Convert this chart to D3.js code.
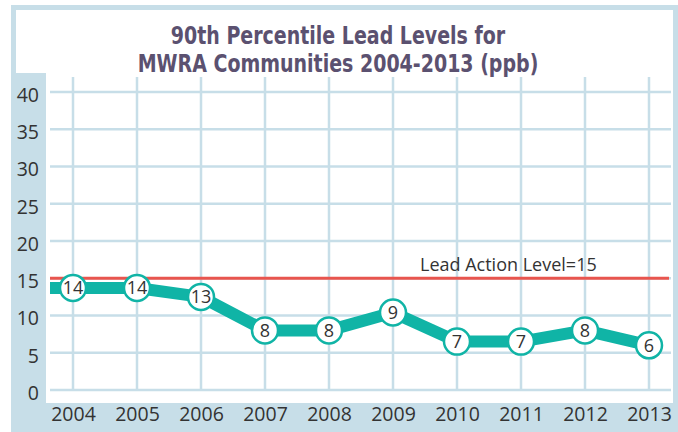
<!DOCTYPE html>
<html>
<head>
<meta charset="utf-8">
<script src="https://cdn.jsdelivr.net/npm/d3@7"></script>
<style>
  body { margin: 0; background: #fff; }
  svg { display: block; }
  .tick-label { font-family: "Open Sans", sans-serif; font-size: 19.5px; fill: #333; }
  .title { font-family: "Liberation Sans Narrow", "DejaVu Sans Condensed", sans-serif; font-weight: bold; font-size: 24px; fill: #5b5170; }
</style>
</head>
<body>
<svg id="chart"></svg>
<script>
  const years = ['2004', '2005', '2006', '2007', '2008', '2009', '2010', '2011', '2012', '2013'];
  const leadValues = [13.7, 13.7, 12.5, 8.0, 8.0, 10.4, 6.5, 6.5, 8.0, 6.0];
  const leadLabels = ['14', '14', '13', '8', '8', '9', '7', '7', '8', '6'];
  const yTicks = [0, 5, 10, 15, 20, 25, 30, 35, 40];
  const actionLevel = 15;
  const actionLabel = 'Lead Action Level=15';
  const titleLines = ['90th Percentile Lead Levels for', 'MWRA Communities 2004-2013 (ppb)'];

  const WIDTH = 678;
  const HEIGHT = 432;
  const FRAME = '#c7dee8';
  const TEAL = '#10b4a6';
  const PLOT = {left: 50, right: 671, top: 77, bottom: 390};

  const svg = d3.select('#chart')
    .attr('width', WIDTH)
    .attr('height', HEIGHT);

  // frame + axis bands
  svg.append('rect').attr('x', 11).attr('y', 5).attr('width', WIDTH - 11).attr('height', HEIGHT - 5).attr('fill', FRAME);
  svg.append('rect').attr('x', 16).attr('y', 10).attr('width', 673 - 16).attr('height', 63).attr('fill', '#fff');
  svg.append('rect').attr('x', 46).attr('y', 73).attr('width', 673 - 46).attr('height', 403 - 73).attr('fill', '#fff');

  const x = d3.scalePoint().domain(years).range([73, 649]);
  const y = d3.scaleLinear().domain([0, 40]).range([PLOT.bottom, 92]);

  // grid
  svg.append('g')
    .selectAll('line')
    .data(yTicks)
    .enter()
    .append('line')
    .attr('x1', PLOT.left)
    .attr('x2', PLOT.right)
    .attr('y1', d => y(d))
    .attr('y2', d => y(d))
    .attr('stroke', FRAME)
    .attr('stroke-width', 2.5);

  svg.append('g')
    .selectAll('line')
    .data(years)
    .enter()
    .append('line')
    .attr('x1', d => x(d))
    .attr('x2', d => x(d))
    .attr('y1', PLOT.top)
    .attr('y2', PLOT.bottom)
    .attr('stroke', FRAME)
    .attr('stroke-width', 2.5);

  // axes (labels only)
  const yAxis = svg.append('g')
    .attr('transform', 'translate(39, 3)')
    .call(d3.axisLeft(y).tickValues(yTicks).tickSize(0).tickPadding(0));
  yAxis.select('.domain').remove();
  yAxis.selectAll('text').attr('class', 'tick-label').attr('font-family', null).attr('font-size', null);

  const xAxis = svg.append('g')
    .attr('transform', 'translate(0, 407)')
    .call(d3.axisBottom(x).tickSize(0).tickPadding(0));
  xAxis.select('.domain').remove();
  xAxis.selectAll('text').attr('class', 'tick-label').attr('font-family', null).attr('font-size', null);

  // action level
  svg.append('line')
    .attr('x1', PLOT.left)
    .attr('x2', 669)
    .attr('y1', y(actionLevel))
    .attr('y2', y(actionLevel))
    .attr('stroke', '#e8554e')
    .attr('stroke-width', 3);

  svg.append('text')
    .attr('class', 'tick-label')
    .attr('x', 420)
    .attr('y', y(actionLevel) - 7)
    .style('font-size', '18px')
    .text(actionLabel);

  // series line, starts at the left edge of the plot
  const pts = years.map((yr, i) => [x(yr), y(leadValues[i])]);
  pts.unshift([PLOT.left, y(leadValues[0])]);

  svg.append('path')
    .datum(pts)
    .attr('d', d3.line())
    .attr('fill', 'none')
    .attr('stroke', TEAL)
    .attr('stroke-width', 12)
    .attr('stroke-linejoin', 'round');

  const marker = svg.selectAll('.marker')
    .data(years)
    .enter()
    .append('g')
    .classed('marker', true)
    .attr('transform', (d, i) => `translate(${x(d)}, ${y(leadValues[i])})`);

  marker.append('circle')
    .attr('r', 13)
    .attr('fill', '#fff')
    .attr('stroke', TEAL)
    .attr('stroke-width', 2.5);

  marker.append('text')
    .attr('class', 'tick-label')
    .attr('text-anchor', 'middle')
    .attr('dy', '0.36em')
    .style('font-size', '18px')
    .text((d, i) => leadLabels[i]);

  // title, squeezed to a condensed look
  svg.append('g')
    .attr('transform', 'translate(338, 0) scale(0.88, 1)')
    .append('text')
    .attr('class', 'title')
    .attr('text-anchor', 'middle')
    .selectAll('tspan')
    .data(titleLines)
    .enter()
    .append('tspan')
    .attr('x', 0)
    .attr('y', (d, i) => 44 + i * 28)
    .text(d => d);
</script>
</body>
</html>
